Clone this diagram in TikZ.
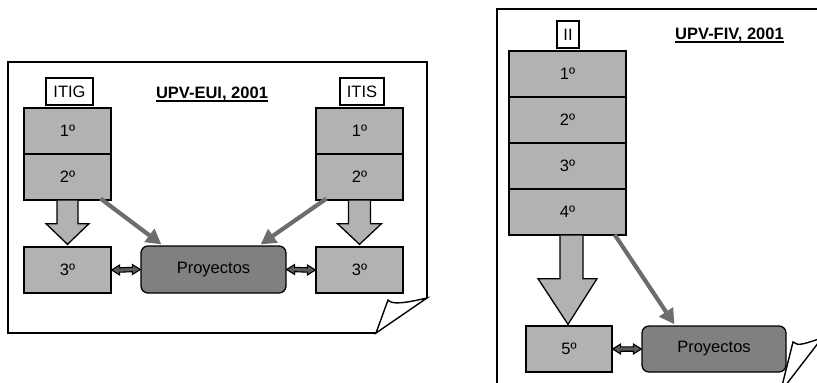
\documentclass[tikz,border=0pt]{standalone}
\usepackage{fontspec}
\setmainfont{Liberation Sans}
\usetikzlibrary{calc,arrows.meta}
\definecolor{lgray}{HTML}{B2B2B2}
\definecolor{pgray}{HTML}{808080}
\definecolor{agray}{HTML}{6D6D6D}
\definecolor{dgray}{HTML}{5A5A5A}
\newcommand{\dblarr}[2]{\filldraw[dblarrow] (#1) -- ($(#1)+(8,-5)$) -- ($(#1)+(8,-2.2)$) -- ($(#2)+(-8,-2.2)$) -- ($(#2)+(-8,-5)$) -- (#2) -- ($(#2)+(-8,5)$) -- ($(#2)+(-8,2.2)$) -- ($(#1)+(8,2.2)$) -- ($(#1)+(8,5)$) -- cycle;}
\begin{document}
\begin{tikzpicture}[x=1pt,y=-1pt,
  every node/.style={font=\fontsize{16.5}{19}\selectfont},
  page/.style={line width=1.4pt, draw=black},
  yearbox/.style={draw=black, line width=1.3pt, fill=lgray, minimum width=87, minimum height=46, inner sep=0},
  label/.style={draw=black, line width=1.3pt, fill=white, minimum height=27, inner sep=0},
  proj/.style={draw=black, line width=1.3pt, fill=pgray, rounded corners=7pt, minimum height=47, inner sep=0},
  title/.style={font=\fontsize{16.5}{19}\selectfont\bfseries, inner sep=0, anchor=base},
  blockarrow/.style={draw=black, line width=1.3pt, fill=lgray, line join=miter},
  diag/.style={draw=agray, line width=4.2pt, -{Triangle[length=15pt,width=16pt]}},
  dblarrow/.style={draw=black, line width=1.1pt, fill=dgray, line join=miter}
]
\useasboundingbox (0,0) rectangle (817,383);
\clip (0,0) rectangle (817,383);
\fill[white] (0,0) rectangle (817,383);

% ---------- left page ----------
\draw[page] (427,298) -- (427,62) -- (8,62) -- (8,333) -- (376,333);
\filldraw[page, fill=white, line join=miter] (376,333) -- (388,300) .. controls (392,305) and (405,303) .. (427,298) -- cycle;

\node[label, minimum width=47] (itig) at (69.5,91.5) {ITIG};
\node[label, minimum width=44] (itis) at (362,91.5) {ITIS};
\node[title] (t1) at (212,98) {UPV-EUI, 2001};
\draw[line width=1.8pt] ($(t1.base west)+(0,2.6)$) -- ($(t1.base east)+(0,2.6)$);

\node[yearbox] (L1) at (67.5,131) {1º};
\node[yearbox] (L2) at (67.5,177) {2º};
\node[yearbox] (L3) at (67.5,270) {3º};
\node[yearbox] (R1) at (359.5,131) {1º};
\node[yearbox] (R2) at (359.5,177) {2º};
\node[yearbox] (R3) at (359.5,270) {3º};
\node[proj, minimum width=145] (P1) at (213.5,269.5) {Proyectos};

\filldraw[blockarrow] ($(L2.south)+(-10.5,0)$) -- ($(L2.south)+(-10.5,23)$) -- ($(L2.south)+(-21.5,23)$) -- ($(L3.north)+(0,-2)$) -- ($(L2.south)+(21.5,23)$) -- ($(L2.south)+(10.5,23)$) -- ($(L2.south)+(10.5,0)$);
\filldraw[blockarrow] ($(R2.south)+(-11,0)$) -- ($(R2.south)+(-11,23)$) -- ($(R2.south)+(-22,23)$) -- ($(R3.north)+(0,-2)$) -- ($(R2.south)+(22,23)$) -- ($(R2.south)+(11,23)$) -- ($(R2.south)+(11,0)$);

\draw[diag] ($(L2.south east)+(-11,-2)$) -- ($(P1.north west)+(21,-1)$);
\draw[diag] ($(R2.south west)+(11,-2)$) -- ($(P1.north east)+(-26,-1)$);

\dblarr{L3.east}{P1.west}
\dblarr{P1.east}{R3.west}

% ---------- right page ----------
\draw[page] (497,400) -- (497,9) -- (840,9);
\filldraw[page, fill=white, line join=miter] (780.5,392) -- (793,342) .. controls (798,347) and (806,343) .. (822,338) -- cycle;

\node[label, minimum width=22] (ii) at (568,34.5) {II};
\node[title] (t2) at (729.5,39) {UPV-FIV, 2001};
\draw[line width=1.8pt] ($(t2.base west)+(0,2.6)$) -- ($(t2.base east)+(0,2.6)$);

\node[yearbox, minimum width=117] (F1) at (567.5,74) {1º};
\node[yearbox, minimum width=117] (F2) at (567.5,120) {2º};
\node[yearbox, minimum width=117] (F3) at (567.5,166) {3º};
\node[yearbox, minimum width=117] (F4) at (567.5,212) {4º};
\node[yearbox, minimum width=86] (F5) at (569,349) {5º};
\node[proj, minimum width=144, minimum height=46] (P2) at (714,349) {Proyectos};

\filldraw[blockarrow] ($(F4.south)+(-7.5,0)$) -- ($(F4.south)+(-7.5,43)$) -- ($(F4.south)+(-29.5,43)$) -- ($(F5.north)+(-1,-1)$) -- ($(F4.south)+(29.5,43)$) -- ($(F4.south)+(15.5,43)$) -- ($(F4.south)+(15.5,0)$);

\draw[diag] ($(F4.south east)+(-12,-1)$) -- ($(P2.north west)+(33,-1)$);

\dblarr{F5.east}{P2.west}
\end{tikzpicture}
\end{document}
